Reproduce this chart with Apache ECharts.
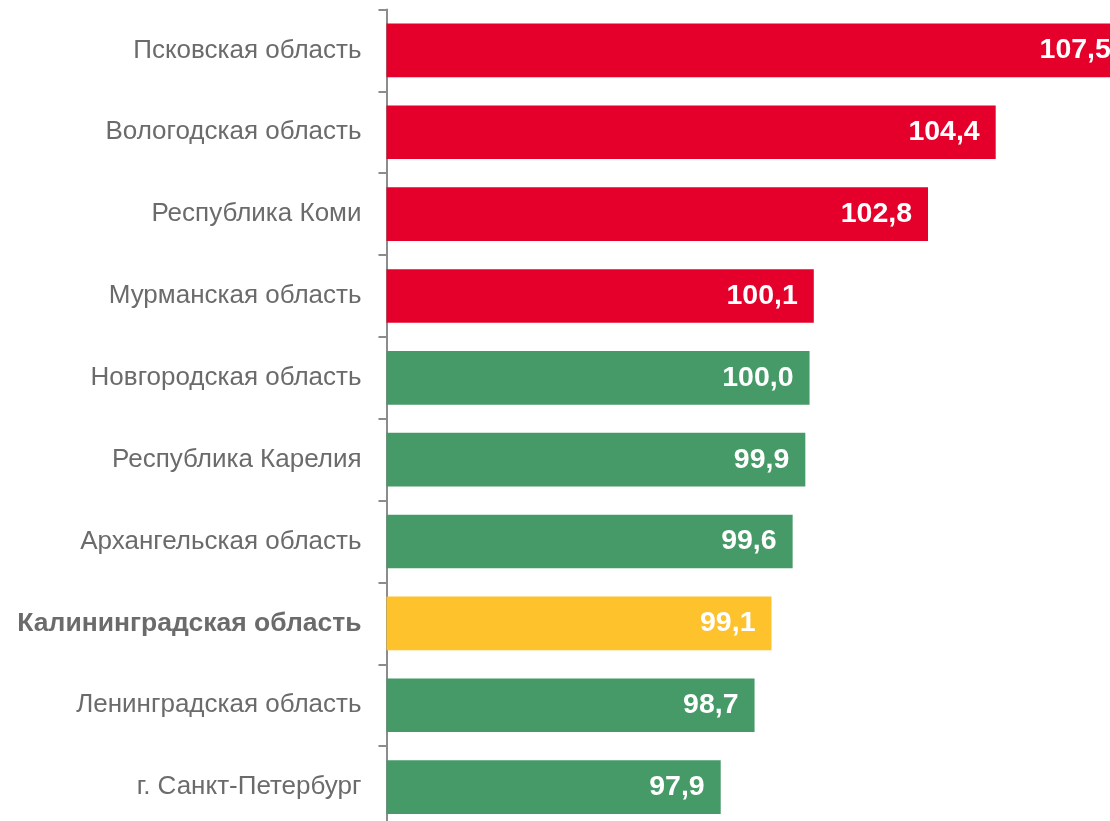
<!DOCTYPE html>
<html><head><meta charset="utf-8">
<script src="https://cdn.jsdelivr.net/npm/echarts@6/dist/echarts.min.js"></script>
<style>html,body{margin:0;padding:0;background:#fff;overflow:hidden;width:1110px;height:821px}#c{width:1148px;height:828px}</style>
</head><body><div id="c"></div>
<script>
const categories = ["Псковская область","Вологодская область","Республика Коми","Мурманская область","Новгородская область","Республика Карелия","Архангельская область","Калининградская область","Ленинградская область","г. Санкт-Петербург"];
const values = [107.5,104.4,102.8,100.1,100.0,99.9,99.6,99.1,98.7,97.9];
const colorKeys = ["red","red","red","red","green","green","green","yellow","green","green"];
const palette = {red:"#E4002B", green:"#459A67", yellow:"#FEC22D"};
const highlight = "Калининградская область";

const chart = echarts.init(document.getElementById('c'));
chart.setOption({
  animation:false,
  grid:{left:386.5, right:0, top:9.5, bottom:0, containLabel:false},
  xAxis:{type:'value', min:90, max:108, show:false},
  yAxis:{type:'category', inverse:true, data:categories,
    axisLine:{show:true, lineStyle:{color:'#8c8c8c', width:2}},
    axisTick:{show:true, length:8, lineStyle:{color:'#8c8c8c', width:2}},
    axisLabel:{margin:25, fontFamily:'Arial, "Liberation Sans", sans-serif', fontSize:26, color:'#6b6b6b',
      formatter:function(v){return v===highlight ? '{b|'+v+'}' : v;},
      rich:{b:{fontWeight:'bold', fontSize:26.5, color:'#6b6b6b', fontFamily:'Arial, "Liberation Sans", sans-serif'}}}
  },
  series:[{type:'bar', barCategoryGap:'34.5%', clip:true, z:1,
    data: values.map((v,i)=>({value:v, itemStyle:{color:palette[colorKeys[i]]}})),
    label:{show:true, position:'insideRight', distance:16, color:'#fff', fontWeight:'bold',
      fontSize:28.5, fontFamily:'Arial, "Liberation Sans", sans-serif',
      formatter:p=>p.value.toFixed(1).replace('.',',')}
  }]
});
</script></body></html>
